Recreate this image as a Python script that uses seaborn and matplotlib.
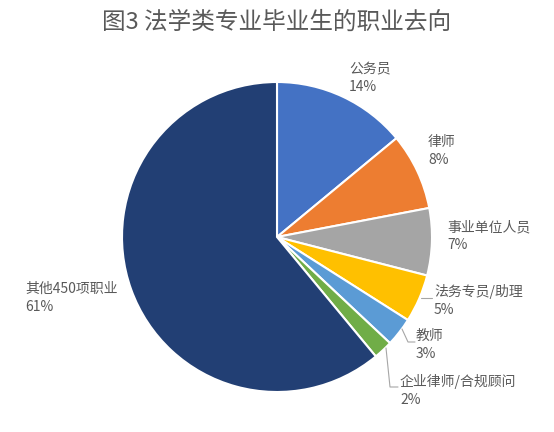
import matplotlib
matplotlib.use("Agg")
import matplotlib.pyplot as plt
import seaborn as sns
import numpy as np

categories = ["公务员", "律师", "事业单位人员", "法务专员/助理", "教师", "企业律师/合规顾问", "其他450项职业"]
values = [14, 8, 7, 5, 3, 2, 61]
colors = ["#4472C4", "#ED7D31", "#A5A5A5", "#FFC000", "#5B9BD5", "#70AD47", "#223F74"]
title = "图3 法学类专业毕业生的职业去向"

sns.set_theme(style="white")
plt.rcParams['font.family'] = ['Noto Sans CJK SC', 'DejaVu Sans']

W, H = 554, 432
fig = plt.figure(figsize=(W / 100, H / 100), dpi=100)
fig.patch.set_facecolor("white")

cx, cy, r = 277, 237, 155
ax = fig.add_axes([(cx - r) / W, (H - cy - r) / H, 2 * r / W, 2 * r / H])
ax.pie(values, colors=colors, startangle=90, counterclock=False,
       wedgeprops=dict(edgecolor="white", linewidth=1.5))
ax.set_xlim(-1, 1)
ax.set_ylim(-1, 1)
ax.set_aspect("equal")
ax.axis("off")

def px(x, y):
    return x / W, 1 - y / H

txt_color = "#595959"
# label anchor positions (pixels, top-left of text block)
label_pos = [(349, 62), (428, 135), (447, 220), (434, 284), (416, 329), (400, 374), (25, 282)]
for (lx, ly), cat, v in zip(label_pos, categories, values):
    fig.text(*px(lx, ly), f"{cat}\n{v}%", ha="left", va="top", fontsize=10,
             color=txt_color, linespacing=1.4)

# leader lines
leaders = [
    [(421, 298), (432, 298)],
    [(402, 329), (408, 342), (415, 342)],
    [(386, 348), (390, 387), (398, 387)],
]
for pts in leaders:
    xs = [p[0] / W for p in pts]
    ys = [1 - p[1] / H for p in pts]
    fig.add_artist(plt.Line2D(xs, ys, color="#A6A6A6", linewidth=0.8))

fig.text(*px(277, 22), title, ha="center", va="center", fontsize=17, color="#595959")

fig.savefig("out.png", dpi=100, facecolor="white")
